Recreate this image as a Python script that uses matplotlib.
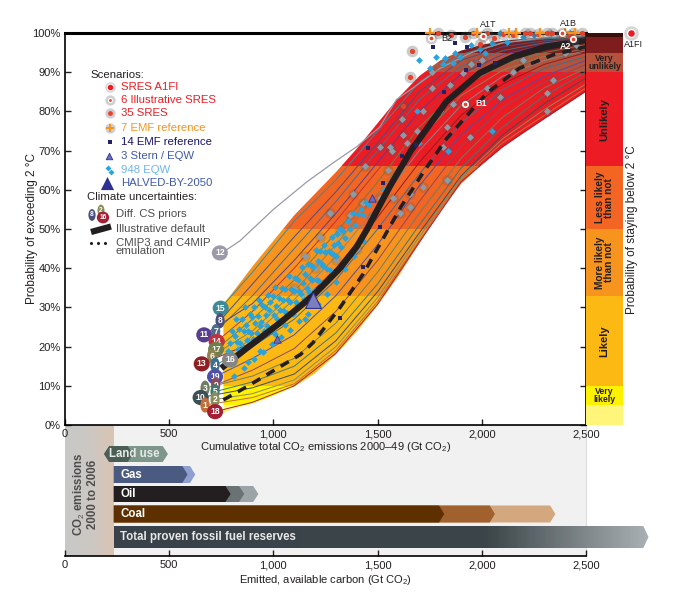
import numpy as np
import matplotlib.pyplot as plt
from matplotlib.patches import Polygon, Rectangle
from matplotlib.colors import LinearSegmentedColormap

plt.rcParams['font.family'] = ['Liberation Sans', 'DejaVu Sans']
plt.rcParams['mathtext.fontset'] = 'custom'
plt.rcParams['mathtext.rm'] = 'Liberation Sans'
plt.rcParams['mathtext.bf'] = 'Liberation Sans:bold'
plt.rcParams['font.size'] = 8

# ---------------- data ----------------
# probability bands (percent) and their colours
band_edges = [0, 5, 10, 33, 50, 66, 90, 95, 99, 100]
band_colors = ['#FFF57A', '#FFF200', '#FDB913', '#F7941D', '#F26522',
               '#ED1C24', '#B5523B', '#7E1D1D', '#3A0E0B']

# envelope of all climate-uncertainty curves
env_x = [760, 800, 900, 1000, 1100, 1200, 1300, 1400, 1500, 1600, 1700,
         1800, 1900, 2000, 2100, 2200, 2300, 2400, 2500]
env_hi = [31, 33.5, 40.5, 47, 53.5, 59, 64.5, 70.5, 77, 83.5, 89,
          93, 95.5, 97, 98, 98.5, 98.8, 99, 99.2]
env_lo = [3, 4, 5.5, 7.5, 9.8, 13.2, 18, 23.8, 30.5, 38, 46.3,
          54.5, 61.5, 66.5, 70.8, 74.5, 78, 81.5, 85]

# curves for the different climate sensitivity priors
cs_x = [900, 1100, 1300, 1500, 1700, 1900, 2100, 2300, 2500]
cs_ids = [15, 8, 7, 11, 14, 17, 6, 16, 13, 4, 19, 9, 3, 5, 10, 2, 1, 18]
cs_start_x = [747, 744, 723, 667, 728, 725, 704, 792, 656, 720, 720, 723, 672, 720, 651, 720, 672, 720]
cs_start_y = [29.8, 26.6, 23.8, 23.0, 21.3, 19.3, 17.6, 16.6, 15.6, 15.3, 12.3, 10.2, 9.4, 8.5, 7.0, 6.5, 5.1, 3.4]
cs_vals = [
    [39, 52, 62.5, 75, 87.5, 94.5, 97.5, 98.5, 99],
    [36, 48, 59.5, 72, 85, 93, 96.5, 98, 98.8],
    [33, 45, 57, 70, 83, 91.5, 95.5, 97.5, 98.5],
    [31, 42, 54, 67, 80, 89.5, 94.5, 97, 98],
    [29, 40, 52, 65, 78, 88, 93.5, 96, 97.5],
    [27, 37, 49, 62, 76, 86, 92, 95, 97],
    [24, 34, 46, 59, 73, 84, 90.5, 94, 96],
    [23, 32, 43, 56, 70, 81.5, 89, 93, 95.5],
    [21, 29.5, 40, 53, 67, 79, 87, 92, 95],
    [20, 27, 37, 50, 64, 77, 85.5, 91, 94],
    [17, 23, 33, 46, 61, 74, 83, 89, 93],
    [14, 19.5, 29, 42, 57, 71, 81, 87.5, 92],
    [12.5, 17, 26, 39, 54, 68, 78.5, 86, 91],
    [11, 15, 23.5, 36, 51, 65.5, 76, 84, 90],
    [9.5, 13, 21.5, 34, 49, 63.5, 74, 82, 88.5],
    [8, 11.5, 20, 32.5, 48, 63, 73, 80.5, 87],
    [7, 10.5, 19, 31.5, 47, 62.5, 72, 79, 86],
    [5.8, 10, 18.3, 30.8, 46.6, 62, 71, 78.2, 85.2],
]
cs_colors = ['#3E8A98', '#4B4F80', '#4E6C8C', '#5A3E8E', '#C2323C', '#6E7E4C',
             '#8E8050', '#858585', '#8E1F22', '#3F6E8E', '#4F4FA8', '#8C4A5C',
             '#6E7E60', '#3F7A70', '#3C4F55', '#8A8C5C', '#C46E3A', '#A31F33']

# outlier prior 12
p12_x = [753, 840, 1000, 1160, 1290, 1400, 1510, 1590, 1670, 1800, 1950, 2100, 2300, 2500]
p12_y = [43.9, 47, 55, 62, 67, 71, 76, 83, 86, 91, 95, 97.5, 98.8, 99.3]

# illustrative default and CMIP3/C4MIP emulation
def_x = [750, 870, 1030, 1190, 1320, 1400, 1450, 1500, 1560, 1660, 1830, 1990, 2150, 2310, 2500]
def_y = [14.5, 19.5, 26, 33, 40, 45.5, 50, 55, 61, 70, 82.5, 89.8, 93.9, 96.5, 98.2]
cmip_x = [760, 870, 1030, 1130, 1190, 1320, 1430, 1510, 1610, 1720, 1830, 2025, 2180, 2340, 2500]
cmip_y = [6.4, 9.7, 14.8, 18, 21, 30, 38.5, 46, 55.5, 64.5, 73, 84.7, 91, 94.4, 96.5]

eqw_pts = [
    (780, 18.8), (786, 16.9), (791, 21.0), (797, 18.3), (803, 24.0), (808, 17.0), (814, 22.8),
    (819, 27.0), (825, 21.1), (830, 19.4), (836, 24.6), (841, 21.0), (847, 27.1), (852, 19.6),
    (858, 23.9), (864, 30.1), (869, 25.4), (875, 21.6), (880, 23.9), (886, 28.2), (891, 23.4),
    (897, 27.6), (903, 21.9), (908, 30.0), (914, 26.0), (919, 23.4), (925, 27.7), (930, 32.0),
    (936, 25.3), (942, 26.4), (947, 30.6), (953, 23.9), (958, 30.0), (964, 28.1), (969, 25.2),
    (975, 33.2), (981, 29.3), (986, 31.4), (992, 24.6), (997, 33.0), (1003, 28.1), (1008, 35.1),
    (1014, 30.3), (1019, 27.0), (1025, 32.3), (1031, 29.3), (1036, 26.6), (1042, 35.0), (1047, 32.0),
    (1053, 29.2), (1058, 34.6), (1064, 28.6), (1070, 31.9), (1075, 38.1), (1081, 31.3), (1086, 34.6),
    (1092, 28.4), (1097, 34.1), (1103, 37.5), (1109, 31.3), (1114, 30.6), (1120, 37.0), (1125, 34.3),
    (1131, 33.5), (1136, 40.2), (1142, 36.3), (1148, 32.1), (1153, 38.6), (1159, 34.9), (1164, 41.0),
    (1170, 33.9), (1176, 37.6), (1181, 40.9), (1187, 37.1), (1192, 40.3), (1198, 34.4), (1203, 44.7),
    (1209, 37.0), (1214, 41.8), (1220, 36.7), (1226, 44.5), (1231, 41.1), (1237, 40.5), (1242, 45.8),
    (1248, 44.2), (1254, 37.1), (1259, 39.8), (1265, 44.4), (1270, 39.5), (1276, 43.9), (1282, 47.9),
    (1287, 43.5), (1293, 46.0), (1298, 43.2), (1304, 48.6), (1310, 46.4), (1318, 50.0), (1326, 45.5),
    (1335, 49.6), (1345, 47.8), (1356, 52.0), (1368, 50.0), (1380, 54.2), (1392, 51.0), (1405, 53.7),
    (1418, 55.0), (1430, 53.5), (1445, 57.0), (1460, 56.0),
    (905, 16.8), (948, 18.5), (992, 20.6), (1036, 22.4), (1080, 24.3), (1124, 26.5), (1168, 28.4),
    (1212, 30.9), (1256, 33.4), (1300, 36.5), (1344, 39.8), (1388, 43.2), (1432, 46.9), (860, 14.6),
    (1010, 23.2), (1150, 27.0), (812, 12.6), (876, 16.0), (935, 19.0), (1058, 25.6),
    (1815, 92), (1895, 94), (1991, 96), (2120, 97.7), (2200, 99), (2330, 100), (1823, 93.6),
    (1871, 95), (2015, 95), (2050, 97.5), (2087, 100), (2423, 100), (1862, 92.3), (1950, 97),
    (2160, 100), (2250, 99.5), (1780, 94), (1700, 93), (1750, 91),
    (1530, 60), (1700, 72), (1840, 70), (2050, 75), (1690, 80),
]

# grey diamonds (other prior runs)
grey_x = [1762, 1718, 1617, 1622, 1689, 1511, 1569, 1641, 1440, 1550, 1382, 1430, 1511, 1473,
          1368, 1272, 1320, 1224, 1607, 1655, 1800, 1833, 1862, 1847, 1910, 2025, 2087, 2312,
          2342, 2312, 1943, 1559, 1814, 1718, 1833, 1655, 1574, 1200, 1150, 1300, 1100, 1400,
          2150, 2200, 2400, 2450, 2000, 1950, 1760]
grey_y = [86, 80, 78, 74, 75, 71, 70, 72, 66, 65, 59, 56.6, 58, 53,
          53.6, 54, 49.7, 48, 54, 55.6, 80, 76, 82, 86.7, 89.8, 86, 83.7, 84.7,
          88, 80, 73.5, 71, 71, 60.7, 62.5, 59, 58, 40, 43, 42, 35, 45,
          90, 93, 95, 97, 93, 92, 90]

# 14 EMF reference
emf14_x = [1320, 1430, 1511, 1526, 1454, 1617, 1684, 1819, 1766, 1871, 1929, 2063, 1924, 1986]
emf14_y = [27.3, 40.3, 50.5, 61.7, 70.7, 68.6, 71.4, 85, 96.4, 97.4, 96.4, 92.3, 90.6, 91.8]

# 7 EMF reference
emf7_x = [1751, 1977, 2130, 2164, 2280, 2400, 2447]

# 35 SRES
sres_x = [1623, 1655, 1663, 1919, 1960, 2025, 2060, 2207, 2231, 2312, 2336, 2438, 2480,
          1790, 1850, 2100, 2150, 2270, 2380, 1990, 2420]
sres_y = [81.3, 88.8, 95.5, 99, 100, 100, 98.6, 100, 100, 100, 100, 100, 100,
          100, 99.5, 99.8, 99.5, 99.8, 99.5, 97.2, 99.3]

# 6 illustrative SRES
illus_names = ['B2', 'A1T', 'A1B', 'A2', 'B1']
illus_x = [1756, 2006, 2383, 2440, 1919]
illus_y = [98.7, 99.2, 99.9, 98.4, 82]

stern_x = [1017, 1472, 1190]
stern_y = [22, 58, 32]
halved_x, halved_y = 1190, 32

# bottom panel
fuel_names = ['Land use', 'Gas', 'Oil', 'Coal']
fuel_start = [187, 234, 234, 234]
fuel_ends = [[326, 494], [588, 625], [795, 860, 928], [1820, 2063, 2353]]
fuel_cols = [['#4A5E55', '#7E978A'], ['#4B5A80', '#8E9FD0'],
             ['#231F20', '#6B7274', '#9DA4A8'], ['#5E3000', '#A0612E', '#D4A87E']]
reserves_end = 2800
emitted_0006 = 234

# ---------------- figure ----------------
W, H = 674, 597
fig = plt.figure(figsize=(W / 100, H / 100), dpi=100)


def fx(px):
    return px / W


def fy(py):
    return 1 - py / H


axb = fig.add_axes([fx(65), fy(556), 2900 * 521 / 2500 / W, 131 / H])
ax = fig.add_axes([fx(65), fy(425), 521 / W, 392 / H])
axr = fig.add_axes([fx(586), fy(425), 37 / W, 392 / H])
ax.patch.set_alpha(0)

# ---- main panel ----
ax.set_xlim(0, 2500)
ax.set_ylim(0, 100)

env = ax.fill_between(env_x, env_lo, env_hi, color='none', lw=0)
env_path = env.get_paths()[0]
for lo, hi, c in zip(band_edges[:-1], band_edges[1:], band_colors):
    r = ax.axhspan(lo, hi, color=c, lw=0, zorder=1)
    r.set_clip_path(env_path, ax.transData)

for i, n in enumerate(cs_ids):
    ax.plot([cs_start_x[i]] + cs_x, [cs_start_y[i]] + cs_vals[i], color=cs_colors[i],
            lw=0.7, zorder=2)
ax.plot(p12_x, p12_y, color='#9A9AA8', lw=0.9, zorder=2)

ax.scatter(grey_x, grey_y, s=60, color='#555555', alpha=0.18, lw=0, zorder=3)
ax.scatter(grey_x, grey_y, s=13, marker='D', color='#8C9BA6', lw=0, zorder=3)
eqw_x = [p[0] for p in eqw_pts]
eqw_y = [p[1] for p in eqw_pts]
ax.scatter(eqw_x, eqw_y, s=12, marker='D', color='#29A3DD', lw=0, zorder=3, clip_on=False)

ax.plot(def_x, def_y, color='#231F20', lw=4.5, solid_capstyle='butt', zorder=4)
ax.plot(cmip_x, cmip_y, color='#231F20', lw=2.6, ls=(0, (2.6, 2.0)), zorder=4)

ax.scatter(emf14_x, emf14_y, s=12, marker='s', color='#262262', lw=0, zorder=5, clip_on=False)
ax.scatter(stern_x, stern_y, s=28, marker='^', color='#6A6FC0', edgecolor='#2E3192',
           lw=0.6, zorder=5)
ax.scatter([halved_x], [halved_y], s=130, marker='^', color='#7B7FC2', edgecolor='#2E3192',
           lw=0.8, zorder=5)

ax.scatter(sres_x, sres_y, s=70, color='#555555', alpha=0.3, lw=0, zorder=5, clip_on=False)
ax.scatter(sres_x, sres_y, s=14, color='#E8412C', lw=0, zorder=6, clip_on=False)
ax.scatter(emf7_x, [100] * len(emf7_x), s=45, marker='+', color='#F7941D', lw=1.6,
           zorder=6, clip_on=False)

ax.scatter(illus_x, illus_y, s=70, color='#555555', alpha=0.3, lw=0, zorder=6, clip_on=False)
ax.scatter(illus_x, illus_y, s=26, color='white', lw=0, zorder=7, clip_on=False)
ax.scatter(illus_x, illus_y, s=7, color='#E8412C', lw=0, zorder=7, clip_on=False)
lab_off = {'B2': (48, 0, 'left', 'center', '#231F20'),
           'A1T': (24, 1.8, 'center', 'bottom', '#231F20'),
           'A1B': (35, 1.5, 'center', 'bottom', '#231F20'),
           'A2': (-36, -0.8, 'center', 'top', 'white'),
           'B1': (48, 0, 'left', 'center', 'white')}
for nm, x, y in zip(illus_names, illus_x, illus_y):
    dx, dy, ha, va, c = lab_off[nm]
    ax.text(x + dx, y + dy, nm, ha=ha, va=va, color=c, fontsize=6.5,
            fontweight='bold' if c == 'white' else 'normal', zorder=8, clip_on=False)

# A1FI sits outside the plot
ax.scatter([2716], [100], s=110, color='#777777', alpha=0.3, lw=0, zorder=7, clip_on=False)
ax.scatter([2716], [100], s=45, color='white', lw=0, zorder=7, clip_on=False)
ax.scatter([2716], [100], s=22, color='#ED1C24', lw=0, zorder=8, clip_on=False)
ax.text(2726, 98.3, 'A1FI', ha='center', va='top', fontsize=6.5, color='#231F20', clip_on=False)

# numbered priors
for i, n in enumerate(cs_ids):
    ax.text(cs_start_x[i], cs_start_y[i], str(n), ha='center', va='center', fontsize=6.2,
            fontweight='bold', color='white', zorder=9,
            bbox=dict(boxstyle='ellipse,pad=0.1', fc=cs_colors[i], ec='none'))
ax.text(p12_x[0] - 10, p12_y[0], '12', ha='center', va='center', fontsize=6.2,
        fontweight='bold', color='white', zorder=9,
        bbox=dict(boxstyle='ellipse,pad=0.1', fc='#9A9AA8', ec='none'))

# axes styling
ax.set_yticks(range(0, 101, 10))
ax.set_yticklabels(['%d%%' % v for v in range(0, 101, 10)])
ax.set_xticks(range(0, 2501, 500))
ax.set_xticklabels(['0', '500', '1,000', '1,500', '2,000', '2,500'])
ax.tick_params(direction='in', length=4, width=1, right=True, labelsize=8,
               colors='#231F20', pad=3)
for s in ['left', 'bottom', 'right']:
    ax.spines[s].set_linewidth(1.2)
ax.spines['top'].set_linewidth(2.2)
ax.set_xlabel(r'Cumulative total CO$_2$ emissions 2000–49 (Gt CO$_2$)', fontsize=8,
              color='#231F20')
ax.xaxis.set_label_coords(0.5, -0.038)
ax.set_ylabel('Probability of exceeding 2 °C', fontsize=8.5, color='#231F20')
ax.yaxis.set_label_coords(-0.052, 0.5)


# legend, placed by hand in axes fraction (from pixel layout)
def A(px, py):
    return ((px - 65) / 521, (425 - py) / 392)


T = ax.transAxes
leg_kw = dict(transform=T, ha='left', va='center', fontsize=8.2, zorder=10)
ax.text(*A(90, 75), 'Scenarios:', color='#231F20', **leg_kw)
rows = [86.7, 100, 113.3, 128.3, 141.7, 156, 170, 183.3]
names = ['SRES A1FI', '6 Illustrative SRES', '35 SRES', '7 EMF reference',
         '14 EMF reference', '3 Stern / EQW', '948 EQW', 'HALVED-BY-2050']
tcols = ['#ED1C24', '#ED1C24', '#ED1C24', '#F7941D', '#1B1464', '#3F5AA8', '#6DB6E8', '#3F5AA8']
for py, nm, c in zip(rows, names, tcols):
    ax.text(*A(121, py), nm, color=c, **leg_kw)
mk = dict(transform=T, clip_on=False, zorder=10, lw=0)
for py in rows[:4]:
    ax.scatter(*A(110, py), s=55, color='#666666', alpha=0.3, **mk)
ax.scatter(*A(110, rows[0]), s=30, color='white', **mk)
ax.scatter(*A(110, rows[0]), s=16, color='#ED1C24', **mk)
ax.scatter(*A(110, rows[1]), s=14, color='white', **mk)
ax.scatter(*A(110, rows[1]), s=4, color='#E8412C', **mk)
ax.scatter(*A(110, rows[2]), s=12, color='#E8412C', **mk)
ax.scatter(*A(110, rows[3]), s=30, marker='+', color='#F7941D', transform=T, clip_on=False,
           zorder=10, lw=1.4)
ax.scatter(*A(110, rows[4]), s=10, marker='s', color='#262262', **mk)
ax.scatter(*A(109, rows[5]), s=22, marker='^', color='#6A6FC0', transform=T, clip_on=False,
           zorder=10, edgecolor='#2E3192', lw=0.6)
ax.scatter(*A(108, rows[6] - 2), s=9, marker='D', color='#29A3DD', **mk)
ax.scatter(*A(111, rows[6] + 1.5), s=9, marker='D', color='#29A3DD', **mk)
ax.scatter(*A(107, rows[7]), s=90, marker='^', color='#2E3192', **mk)

ax.text(*A(87, 196.7), 'Climate uncertainties:', color='#231F20', **leg_kw)
for px, py, n, c in [(92, 215, '8', '#4B4F80'), (101, 210.5, '2', '#8A8C5C'),
                     (103, 217.5, '16', '#A31F33')]:
    ax.text(*A(px, py), n, transform=T, ha='center', va='center', fontsize=4.8,
            fontweight='bold', color='white', zorder=10,
            bbox=dict(boxstyle='ellipse,pad=0.1', fc=c, ec='none'))
ax.text(*A(116, 214), 'Diff. CS priors', color='#4D4D4D', **leg_kw)
x0, y0 = A(91, 232)
x1, y1 = A(111, 226.5)
ax.plot([x0, x1], [y0, y1], transform=T, color='#231F20', lw=4.5, solid_capstyle='butt',
        clip_on=False, zorder=10)
ax.text(*A(116, 229), 'Illustrative default', color='#4D4D4D', **leg_kw)
for px in [91, 98, 105]:
    ax.scatter(*A(px, 242.5), s=5, color='#231F20', **mk)
ax.text(*A(116, 247), 'CMIP3 and C4MIP\nemulation', color='#4D4D4D', linespacing=0.85,
        **leg_kw)

# ---- right probability bar ----
axr.set_xlim(0, 1)
axr.set_ylim(0, 100)
for lo, hi, c in zip(band_edges[:-1], band_edges[1:], band_colors):
    axr.axhspan(lo, hi, color=c, lw=0)
axr.set_xticks([])
axr.set_yticks([])
for s in axr.spines.values():
    s.set_visible(False)
bar_kw = dict(ha='center', va='center', color='#231F20', fontweight='bold')
axr.text(0.5, 92.5, 'Very\nunlikely', fontsize=6.3, linespacing=0.9, **bar_kw)
axr.text(0.5, 78, 'Unlikely', fontsize=8, rotation=90, **bar_kw)
axr.text(0.5, 58, 'Less likely\nthan not', fontsize=7.3, rotation=90, linespacing=0.9, **bar_kw)
axr.text(0.5, 41.5, 'More likely\nthan not', fontsize=7.3, rotation=90, linespacing=0.9, **bar_kw)
axr.text(0.5, 21.5, 'Likely', fontsize=8, rotation=90, **bar_kw)
axr.text(0.5, 7.5, 'Very\nlikely', fontsize=6.3, linespacing=0.9, **bar_kw)
fig.text(fx(632), fy(230), 'Probability of staying below 2 °C', rotation=90, ha='center',
         va='center', fontsize=8.5, color='#231F20')

# ---- bottom panel ----
axb.set_xlim(0, 2900)
axb.set_ylim(0, 131)
axb.patch.set_alpha(0)
for s in ['left', 'right', 'top']:
    axb.spines[s].set_visible(False)
axb.spines['bottom'].set_bounds(0, 2500)
axb.spines['bottom'].set_linewidth(1.2)
axb.set_yticks([])
axb.set_xticks(range(0, 2501, 500))
axb.set_xticklabels(['0', '500', '1,000', '1,500', '2,000', '2,500'])
axb.tick_params(direction='in', length=4, width=1, labelsize=8, colors='#231F20', pad=3)
axb.set_xlabel(r'Emitted, available carbon (Gt CO$_2$)', fontsize=8, color='#231F20')
axb.xaxis.set_label_coords(1250 / 2900, -0.13)

axb.add_patch(Rectangle((0, 0), 2500, 131, fc='#F1F1F1', ec='#DDDDDD', lw=0.8, zorder=0))
grad = np.linspace(0, 1, 50).reshape(1, -1)
cm_left = LinearSegmentedColormap.from_list('l', ['#C8C8C8', '#CCC8C4', '#D9C4B4'])
axb.imshow(grad, cmap=cm_left, extent=(0, emitted_0006, 0, 131), aspect='auto', zorder=1)
axb.text(emitted_0006 / 2 - 20, 62, 'CO$_2$ emissions\n2000 to 2006', rotation=90,
         ha='center', va='center', fontsize=8.3, color='#4D4D4D', fontweight='bold',
         linespacing=1.0, zorder=3)

bar_y = [102, 81.5, 62, 42]
bar_h = [16, 17, 16, 17]
tip = 25


def chevron(s, e, yc, h, left_tip=False):
    pts = [(e - tip, yc - h / 2), (e, yc), (e - tip, yc + h / 2)]
    if left_tip:
        pts += [(s + tip, yc + h / 2), (s, yc), (s + tip, yc - h / 2)]
    else:
        pts += [(s, yc + h / 2), (s, yc - h / 2)]
    return pts


for k, nm in enumerate(fuel_names):
    ends = fuel_ends[k]
    cols = fuel_cols[k]
    for e, c in reversed(list(zip(ends, cols))):
        axb.add_patch(Polygon(chevron(fuel_start[k], e, bar_y[k], bar_h[k], left_tip=(k == 0)),
                              closed=True, fc=c, ec='none', zorder=4))
    if k == 0:
        axb.text(330, bar_y[k], nm, ha='center', va='center', fontsize=8.3, fontweight='bold',
                 color='#E6EAE8', zorder=5)
    else:
        axb.text(264, bar_y[k], nm, ha='left', va='center', fontsize=8.3, fontweight='bold',
                 color='white', zorder=5)

res_y, res_h = 19, 22
res_poly = Polygon(chevron(emitted_0006, reserves_end, res_y, res_h), closed=True,
                   fc='none', ec='none')
axb.add_patch(res_poly)
cm_res = LinearSegmentedColormap.from_list('r', [(0, '#39424A'), (0.7, '#3C4649'),
                                                 (1.0, '#A9B0B4')])
im = axb.imshow(np.linspace(0, 1, 200).reshape(1, -1), cmap=cm_res,
                extent=(emitted_0006, reserves_end, res_y - res_h / 2, res_y + res_h / 2),
                aspect='auto', zorder=4)
im.set_clip_path(res_poly)
axb.text(264, res_y, 'Total proven fossil fuel reserves', ha='left', va='center',
         fontsize=8.3, fontweight='bold', color='#E8E8E8', zorder=5)
axb.set_xlim(0, 2900)
axb.set_ylim(0, 131)

fig.savefig('out.png', dpi=100)
